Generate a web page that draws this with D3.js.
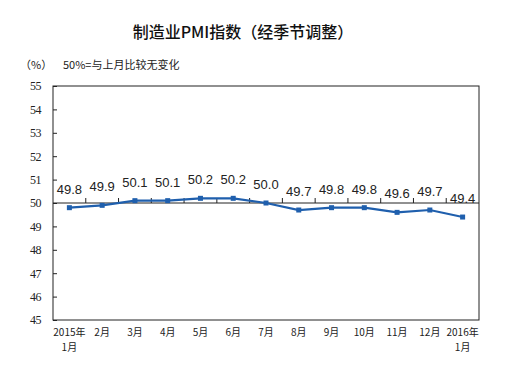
<!DOCTYPE html>
<html><head><meta charset="utf-8">
<script src="https://cdn.jsdelivr.net/npm/d3@7/dist/d3.min.js"></script>
<style>body{margin:0;background:#fff}</style>
</head><body>
<svg id="c" width="506" height="375"></svg>
<script>
const categories = ["2015年|1月","2月","3月","4月","5月","6月","7月","8月","9月","10月","11月","12月","2016年|1月"];
const values = [49.8,49.9,50.1,50.1,50.2,50.2,50.0,49.7,49.8,49.8,49.6,49.7,49.4];
const yTicks = [45,46,47,48,49,50,51,52,53,54,55];
const title = "制造业PMI指数（经季节调整）";
const unitLabel = "（%）";
const note = "50%=与上月比较无变化";

const svg = d3.select("#c");
const L=53,R=479,T=86,B=320;
const x = d3.scaleBand().domain(categories).range([L,R]);
const y = d3.scaleLinear().domain([45,55]).range([B,T]);
const cjk = "'Noto Sans CJK SC', sans-serif";

svg.append("text").attr("x",243).attr("y",38).attr("text-anchor","middle")
  .attr("font-family",cjk).attr("font-size",16).attr("font-weight",500).attr("fill","#111").text(title);
svg.append("text").attr("x",20).attr("y",69).attr("font-family",cjk).attr("font-size",11).attr("fill","#222").text(unitLabel);
svg.append("text").attr("x",63).attr("y",69).attr("font-family",cjk).attr("font-size",11).attr("fill","#222").text(note);

// frame
svg.append("rect").attr("x",L).attr("y",T).attr("width",R-L).attr("height",B-T)
  .attr("fill","none").attr("stroke","#222").attr("stroke-width",1);

// y axis
const ya = svg.append("g").attr("transform",`translate(${L},0)`)
  .call(d3.axisLeft(y).tickValues(yTicks).tickSize(-4).tickPadding(12).tickFormat(d3.format("d")));
ya.select(".domain").remove();
ya.selectAll("line").attr("stroke","#222");
ya.selectAll("text").attr("font-family","'Liberation Serif', serif").attr("font-size",12).attr("fill","#222").attr("letter-spacing",-0.5);

// x axis along 50 line
const xa = svg.append("g").attr("transform",`translate(0,${y(50)})`);
xa.append("line").attr("x1",L).attr("x2",R).attr("stroke","#222");
xa.selectAll("line.t").data(categories.slice(1)).join("line").attr("class","t")
  .attr("x1",d=>x(d)).attr("x2",d=>x(d)).attr("y1",0).attr("y2",-5).attr("stroke","#222");

// x labels
const xl = svg.append("g").attr("font-family",cjk).attr("font-size",10).attr("fill","#222");
categories.forEach(c=>{
  const parts=c.split("|");
  const cx=x(c)+x.bandwidth()/2;
  parts.forEach((p,i)=>{
    xl.append("text").attr("x", cx).attr("y",336+i*15).attr("text-anchor","middle").text(p);
  });
});

// line
const pts = categories.map((c,i)=>[x(c)+x.bandwidth()/2, y(values[i])]);
svg.append("path").attr("d",d3.line()(pts)).attr("fill","none").attr("stroke","#1f5fad").attr("stroke-width",2.2);
svg.selectAll("rect.m").data(pts).join("rect").attr("class","m")
  .attr("x",d=>d[0]-2.5).attr("y",d=>d[1]-2.5).attr("width",5).attr("height",5).attr("fill","#1f5fad");

// data labels
svg.selectAll("text.v").data(values).join("text").attr("class","v")
  .attr("x",(d,i)=>pts[i][0]).attr("y",(d,i)=>pts[i][1]-14)
  .attr("text-anchor","middle").attr("font-family","'Liberation Sans', Arial, sans-serif")
  .attr("font-size",13).attr("fill","#222").text(d=>d3.format(".1f")(d));
</script>
</body></html>
